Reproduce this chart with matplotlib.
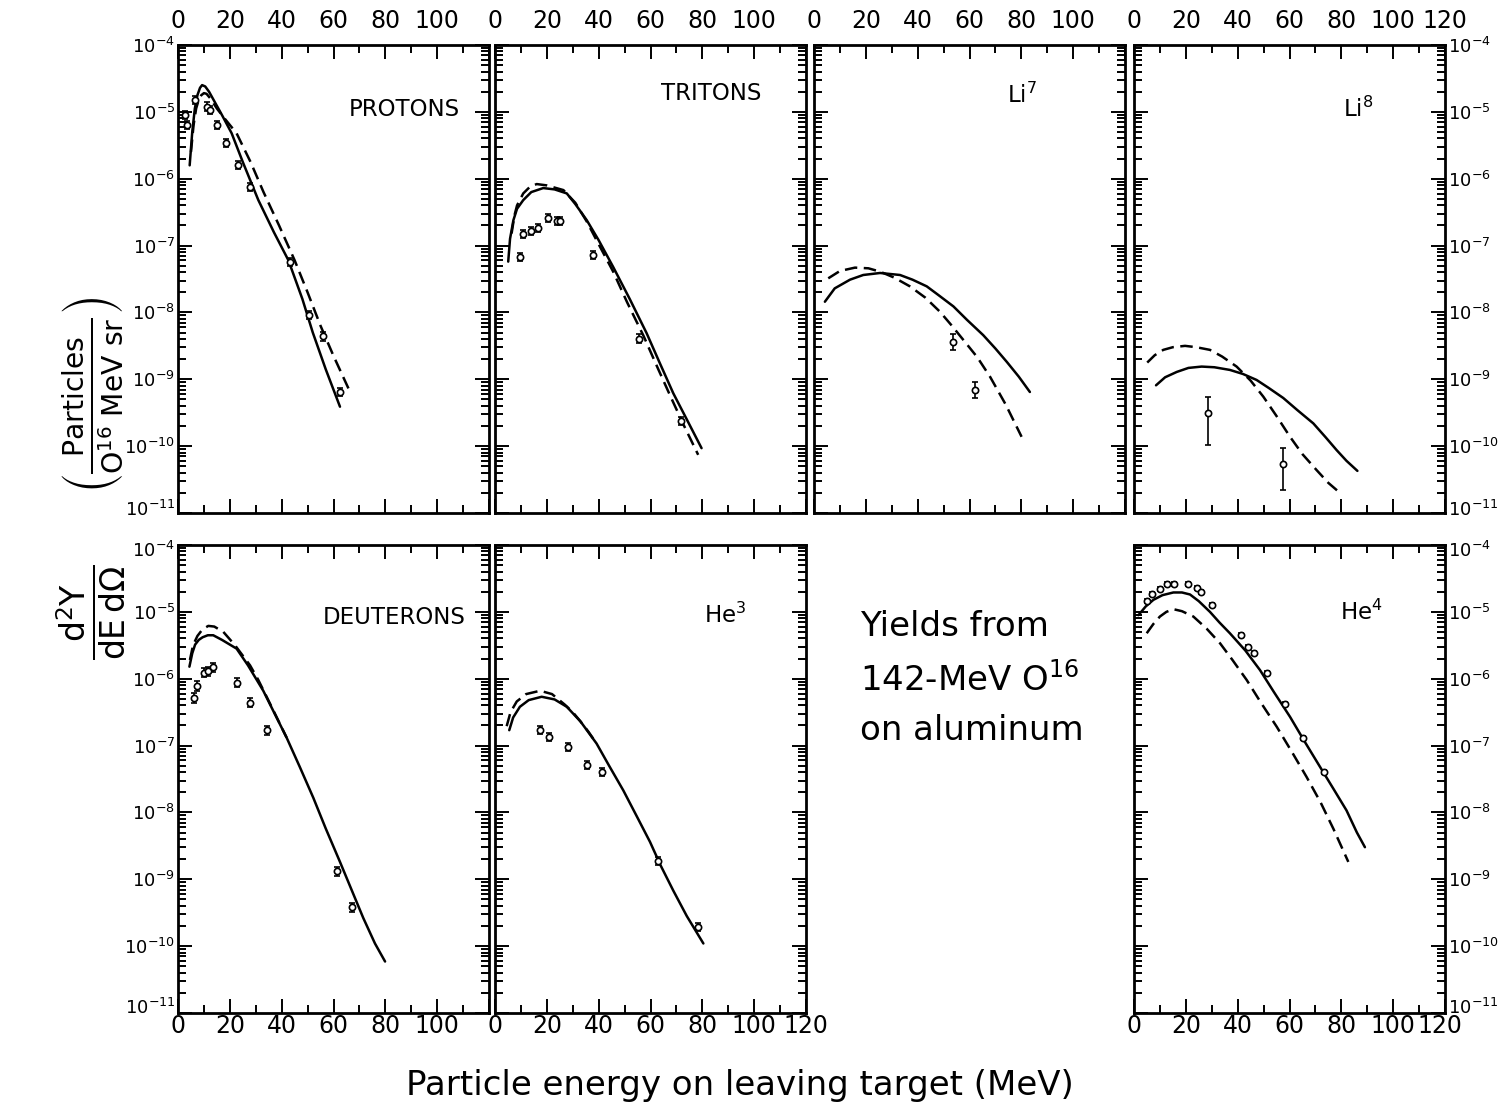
import numpy as np
import matplotlib.pyplot as plt
from matplotlib.ticker import LogLocator, NullFormatter
from matplotlib.transforms import ScaledTranslation

plt.rcParams['font.family'] = 'DejaVu Sans'
plt.rcParams['mathtext.fontset'] = 'dejavusans'

# --- data: energy (MeV) and log10 of d2Y/dEdOmega ---
# protons
pro_sol_x = [4.5, 5.5, 6.5, 7.5, 8.5, 9.3, 10.5, 12, 14, 17, 20.7, 25, 31, 37, 42.6, 48, 52, 57, 62.5]
pro_sol_y = [-5.8, -5.3, -4.95, -4.75, -4.64, -4.6, -4.62, -4.7, -4.84, -5.05, -5.32, -5.75, -6.32, -6.8, -7.22, -7.8, -8.3, -8.85, -9.41]
pro_dsh_x = [5, 6, 7, 8, 9, 10, 11, 12.5, 15, 18, 22.6, 28, 33, 39, 45, 50, 55, 60, 66.4]
pro_dsh_y = [-5.6, -5.2, -4.95, -4.82, -4.75, -4.72, -4.73, -4.8, -4.95, -5.1, -5.32, -5.75, -6.2, -6.7, -7.22, -7.7, -8.2, -8.65, -9.19]
pro_pts_x = [2.7, 3.3, 6.6, 11.1, 12.5, 14.9, 18.5, 23.3, 27.8, 43.2, 50.7, 55.8, 62.5]
pro_pts_y = [-5.05, -5.2, -4.82, -4.92, -4.97, -5.2, -5.47, -5.79, -6.12, -7.24, -8.04, -8.36, -9.19]

# tritons
tri_sol_x = [5.1, 5.8, 7.1, 8.5, 10.9, 14, 18.6, 23, 27.7, 31, 35.4, 40, 45.6, 52, 58.5, 63.5, 68.8, 74, 79.7]
tri_sol_y = [-7.24, -6.9, -6.62, -6.45, -6.32, -6.2, -6.14, -6.16, -6.22, -6.38, -6.62, -6.92, -7.32, -7.8, -8.31, -8.75, -9.21, -9.6, -10.03]
tri_dsh_x = [6.4, 7.5, 8.5, 10.9, 13.5, 16.1, 20, 26.4, 31, 35.4, 40, 45.6, 51, 57.3, 63, 68, 73, 78.4]
tri_dsh_y = [-6.82, -6.55, -6.4, -6.22, -6.12, -6.08, -6.1, -6.17, -6.36, -6.64, -6.98, -7.39, -7.85, -8.35, -8.85, -9.28, -9.7, -10.13]
tri_pts_x = [9.6, 10.7, 13.8, 16.7, 20.3, 23.8, 25.0, 37.9, 55.7, 71.6]
tri_pts_y = [-7.17, -6.82, -6.78, -6.74, -6.59, -6.63, -6.63, -7.14, -8.39, -9.63]

# Li7
li7_sol_x = [4.2, 8, 13.9, 19, 25.5, 33.2, 38, 43.5, 48, 53.8, 59, 65.3, 70, 74.4, 79, 83.3]
li7_sol_y = [-7.84, -7.64, -7.51, -7.44, -7.41, -7.44, -7.51, -7.61, -7.74, -7.91, -8.11, -8.34, -8.54, -8.74, -8.96, -9.19]
li7_dsh_x = [5.5, 10, 15.8, 21, 25.5, 31, 37.0, 43, 48.6, 53, 57.6, 63, 67.9, 74, 80.1]
li7_dsh_y = [-7.49, -7.38, -7.33, -7.34, -7.39, -7.48, -7.61, -7.78, -7.99, -8.19, -8.41, -8.67, -8.96, -9.38, -9.86]
li7_pts_x = [53.8, 62.0]
li7_pts_y = [-8.44, -9.16]

# Li8
li8_sol_x = [8.5, 12, 16.5, 21, 26.1, 31, 37.0, 42, 47.3, 52, 57.6, 63, 69.2, 74, 78.2, 82, 86.2]
li8_sol_y = [-9.09, -8.97, -8.89, -8.83, -8.81, -8.82, -8.86, -8.92, -9.01, -9.13, -9.28, -9.46, -9.66, -9.87, -10.06, -10.22, -10.37]
li8_dsh_x = [5.1, 8, 11.3, 15, 19.7, 24, 29.3, 34, 39.6, 45, 49.9, 55, 60.2, 65, 70.5, 75, 79.8]
li8_dsh_y = [-8.75, -8.64, -8.56, -8.52, -8.50, -8.52, -8.56, -8.66, -8.81, -9.02, -9.26, -9.55, -9.86, -10.12, -10.36, -10.55, -10.71]
li8_pts_x = [28.5, 57.4]
li8_pts_y = [-9.50, -10.26]

# deuterons
deu_sol_x = [4.4, 5.5, 6.6, 8, 9.5, 11.5, 13.6, 17, 22.6, 27, 32.9, 37, 41.9, 47, 52.2, 57, 62.5, 67, 71.5, 76, 79.9]
deu_sol_y = [-5.82, -5.62, -5.49, -5.42, -5.38, -5.35, -5.35, -5.42, -5.55, -5.8, -6.18, -6.5, -6.88, -7.32, -7.78, -8.24, -8.74, -9.16, -9.58, -9.96, -10.23]
deu_dsh_x = [4.6, 5.8, 7.5, 9.5, 11.7, 14, 17.5, 22, 27.8, 31, 34.2, 38, 41.9]
deu_dsh_y = [-5.72, -5.5, -5.36, -5.26, -5.21, -5.22, -5.30, -5.5, -5.80, -6.02, -6.27, -6.57, -6.88]
deu_pts_x = [6.2, 7.2, 10.0, 11.7, 13.6, 22.6, 27.8, 34.5, 61.5, 67.0]
deu_pts_y = [-6.29, -6.11, -5.91, -5.89, -5.83, -6.06, -6.36, -6.77, -8.88, -9.42]

# He3
he3_sol_x = [5.5, 7, 9.6, 13, 18.0, 23, 27.7, 33, 39.2, 44, 49.5, 55, 59.8, 64, 68.8, 74, 80.4]
he3_sol_y = [-6.77, -6.58, -6.42, -6.32, -6.27, -6.31, -6.42, -6.64, -6.97, -7.3, -7.67, -8.08, -8.44, -8.8, -9.17, -9.55, -9.96]
he3_dsh_x = [4.5, 6, 8.4, 12, 17.4, 22, 27.0, 30, 32.8, 36, 39.2]
he3_dsh_y = [-6.71, -6.5, -6.34, -6.23, -6.18, -6.23, -6.39, -6.5, -6.63, -6.79, -6.97]
he3_pts_x = [17.4, 20.8, 28.3, 35.6, 41.4, 63.0, 78.4]
he3_pts_y = [-6.77, -6.87, -7.02, -7.29, -7.40, -8.72, -9.72]

# He4
he4_sol_x = [1.7, 4.5, 7.5, 11, 15.2, 18.5, 21.6, 25, 29.3, 33, 37.0, 43, 48.6, 54, 60.2, 66, 71.8, 77, 82.0, 86, 89.1]
he4_sol_y = [-5.05, -4.92, -4.82, -4.75, -4.71, -4.71, -4.74, -4.84, -5.00, -5.16, -5.32, -5.58, -5.87, -6.2, -6.57, -6.95, -7.32, -7.65, -7.97, -8.3, -8.52]
he4_dsh_x = [4.9, 7.5, 10.0, 12.5, 15.2, 18.5, 22.9, 28, 33.2, 38, 43.5, 49, 55.1, 61, 66.6, 72, 77, 82.7]
he4_dsh_y = [-5.32, -5.18, -5.07, -5.0, -4.96, -4.99, -5.07, -5.25, -5.47, -5.72, -6.02, -6.36, -6.72, -7.1, -7.47, -7.85, -8.25, -8.74]
he4_pts_x = [4.9, 6.8, 10.0, 12.6, 15.6, 21.0, 24.2, 25.9, 30.0, 41.3, 43.9, 46.4, 51.2, 58.2, 65.3, 73.4]
he4_pts_y = [-4.84, -4.74, -4.66, -4.58, -4.58, -4.58, -4.65, -4.70, -4.90, -5.35, -5.52, -5.61, -5.91, -6.38, -6.88, -7.40]

# error bars in dex (down, up)
li8_err_lo = [0.48, 0.40]
li8_err_hi = [0.24, 0.23]

panels = [
    # row, col, label, (lx, ly, ha), solid, dashed, points, err
    (0, 0, 'PROTONS', (0.905, 0.862, 'right'), (pro_sol_x, pro_sol_y), (pro_dsh_x, pro_dsh_y), (pro_pts_x, pro_pts_y), 0.06),
    (0, 1, 'TRITONS', (0.855, 0.897, 'right'), (tri_sol_x, tri_sol_y), (tri_dsh_x, tri_dsh_y), (tri_pts_x, tri_pts_y), 0.06),
    (0, 2, r'Li$^{7}$', (0.67, 0.893, 'center'), (li7_sol_x, li7_sol_y), (li7_dsh_x, li7_dsh_y), (li7_pts_x, li7_pts_y), 0.12),
    (0, 3, r'Li$^{8}$', (0.72, 0.862, 'center'), (li8_sol_x, li8_sol_y), (li8_dsh_x, li8_dsh_y), (li8_pts_x, li8_pts_y), (li8_err_lo, li8_err_hi)),
    (1, 0, 'DEUTERONS', (0.925, 0.846, 'right'), (deu_sol_x, deu_sol_y), (deu_dsh_x, deu_dsh_y), (deu_pts_x, deu_pts_y), 0.07),
    (1, 1, r'He$^{3}$', (0.74, 0.85, 'center'), (he3_sol_x, he3_sol_y), (he3_dsh_x, he3_dsh_y), (he3_pts_x, he3_pts_y), 0.06),
    (1, 3, r'He$^{4}$', (0.73, 0.857, 'center'), (he4_sol_x, he4_sol_y), (he4_dsh_x, he4_dsh_y), (he4_pts_x, he4_pts_y), 0.03),
]

W, H = 1503, 1115
fig = plt.figure(figsize=(W / 100, H / 100), dpi=100)

col_left = [178, 495, 814, 1134]
row_top = [45, 545]
pw, ph = 311, 468

def nudge(lab, dx, dy):
    lab.set_transform(lab.get_transform() + ScaledTranslation(dx / 100, dy / 100, fig.dpi_scale_trans))

xt = [0, 20, 40, 60, 80, 100, 120]
for row, col, label, (lx, ly, ha), sol, dsh, pts, err in panels:
    ax = fig.add_axes([col_left[col] / W, 1 - (row_top[row] + ph) / H, pw / W, ph / H])
    ax.set_yscale('log')
    ax.plot(sol[0], 10 ** np.array(sol[1]), color='black', lw=1.8, solid_capstyle='round')
    ax.plot(dsh[0], 10 ** np.array(dsh[1]), color='black', lw=1.8, dashes=(5, 2.6))
    py = np.array(pts[1])
    if isinstance(err, tuple):
        lo, hi = np.array(err[0]), np.array(err[1])
    else:
        lo = hi = np.full(len(py), err)
    yv = 10 ** py
    yerr = [yv - 10 ** (py - lo), 10 ** (py + hi) - yv]
    ax.errorbar(pts[0], yv, yerr=yerr, fmt='o', ms=4.5, mfc='white', mec='black',
                mew=1.2, ecolor='black', elinewidth=1.2, capsize=2.5, capthick=1.0)
    ax.text(lx, ly, label, transform=ax.transAxes, ha=ha, va='center', fontsize=16.5)

    ax.set_xlim(0, 120)
    ax.set_ylim(1e-11, 1e-4)
    ax.set_xticks(xt)
    ax.set_xticks([10, 30, 50, 70, 90, 110], minor=True)
    show120 = (col == 3) or (row == 1 and col == 1)
    ax.set_xticklabels([str(v) if (v < 120 or show120) else '' for v in xt])
    ax.yaxis.set_minor_locator(LogLocator(base=10, subs=np.arange(2, 10), numticks=100))
    ax.yaxis.set_minor_formatter(NullFormatter())
    ax.tick_params(which='both', direction='in', top=True, right=True, width=1.4)
    ax.tick_params(which='major', length=10)
    ax.tick_params(which='minor', length=6)
    ax.tick_params(axis='x', labelsize=17, pad=(9 if row == 0 else 1))
    ax.tick_params(axis='y', labelsize=13, pad=2)
    ax.tick_params(labeltop=(row == 0), labelbottom=(row == 1),
                   labelleft=(col == 0), labelright=(col == 3))
    for s in ax.spines.values():
        s.set_linewidth(2.0)

    # nudge the crowded labels at the panel corners
    fig.canvas.draw()
    for lab in ax.get_yticklabels():
        t = lab.get_text()
        if '-11' in t:
            nudge(lab, 0, 5 if row == 0 else 7)
        if row == 1 and '-4' in t:
            nudge(lab, 0, -4)
    if row == 1 and col == 3:
        for lab in ax.get_xticklabels():
            if lab.get_text() == '120':
                nudge(lab, -5, 0)

# caption in the empty panel
fig.text(860 / W, 1 - 627 / H, 'Yields from', fontsize=24.5, ha='left', va='center')
fig.text(860 / W, 1 - 680 / H, r'142-MeV O$^{16}$', fontsize=24.5, ha='left', va='center')
fig.text(860 / W, 1 - 731 / H, 'on aluminum', fontsize=24.5, ha='left', va='center')

# axis labels
fig.text(91 / W, 1 - 612 / H, r'$\frac{\mathrm{d^2Y}}{\mathrm{dE\,d\Omega}}$',
         rotation=90, ha='center', va='center', fontsize=34)
fig.text(93 / W, 1 - 395 / H, r'$\left(\frac{\mathrm{Particles}}{\mathrm{O^{16}\ MeV\ sr}}\right)$',
         rotation=90, ha='center', va='center', fontsize=29)
fig.text(740 / W, 1 - 1085 / H, 'Particle energy on leaving target (MeV)',
         ha='center', va='center', fontsize=24.5)

fig.savefig('out.png', dpi=100, facecolor='white')
